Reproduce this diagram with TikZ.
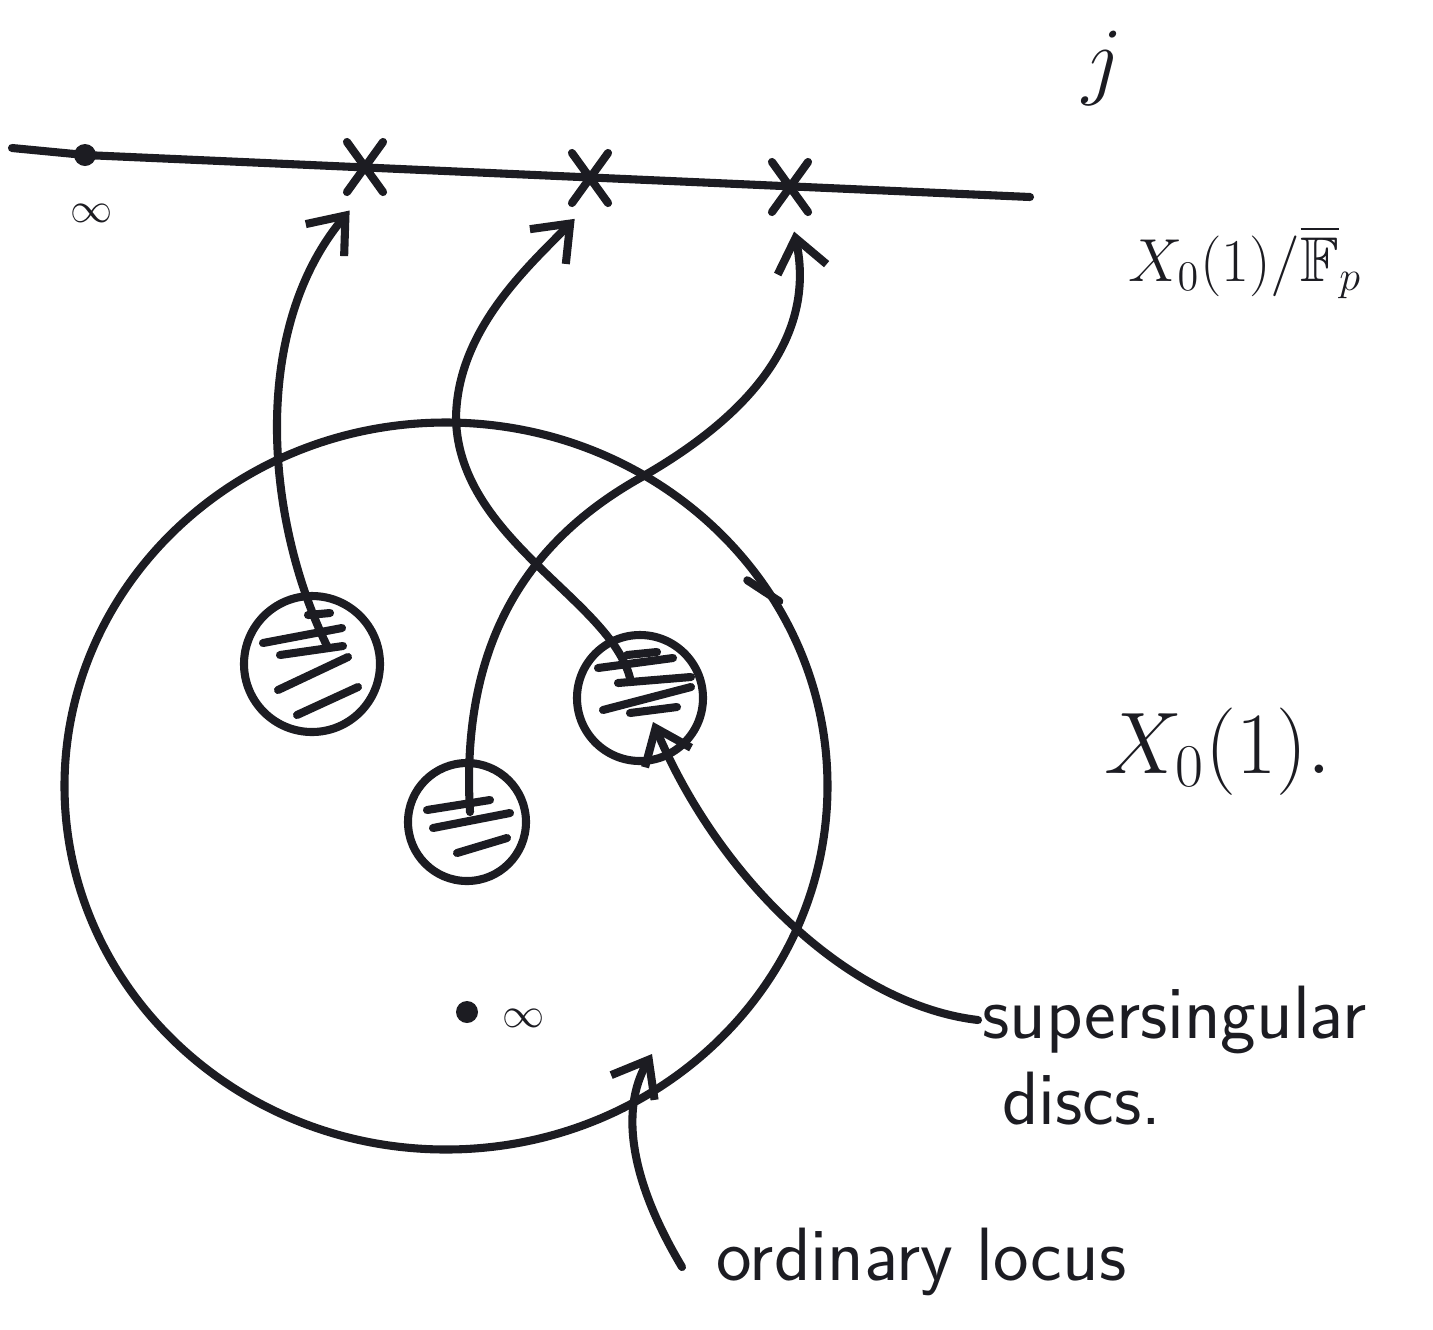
\documentclass[tikz,border=0pt]{standalone}
\usepackage{amsmath,amssymb}
\usepackage{tikz}
\usetikzlibrary{
  arrows.meta, positioning, calc, shapes.geometric, shapes.misc
}
\definecolor{ink}{HTML}{1C1C22}
\tikzset{
  >={Straight Barb[length=3.2mm,width=5mm]},
  pen/.style={draw=ink, line width=2.3pt, line cap=round, line join=round},
  conn/.style={pen, ->},
  disc/.style={circle, pen, minimum size=#1, inner sep=0pt},
  locus/.style={ellipse, pen, minimum width=76.3mm, minimum height=72.7mm, inner sep=0pt},
  xmark/.style={cross out, draw=ink, line width=2.3pt, line cap=round,
    minimum width=2.8mm, minimum height=4.2mm, inner sep=0pt},
  pt/.style={circle, fill=ink, minimum size=2.2mm, inner sep=0pt},
  hatch/.style={draw=ink, line width=2.3pt, line cap=round},
  lab/.style={font=\fontsize{21.5}{25}\selectfont\sffamily, text=ink, inner sep=1pt}
}

\begin{document}
\begin{tikzpicture}[x=0.1mm, y=-0.1mm]
  \useasboundingbox (0,0) rectangle (1433,1329);

  % the j-line over F_p-bar
  \coordinate (jL) at (12,148);
  \coordinate (jR) at (1030,197);
  \node[pt] (inf) at (85,155) {};
  \node[xmark] (c1) at (365,167) {};
  \node[xmark] (c2) at (590,178) {};
  \node[xmark] (c3) at (790,187) {};
  \draw[pen] (jL) -- (inf.center) -- (jR);
  \node[text=ink, font=\fontsize{13}{15}\selectfont] (infL) at (92,213) {$\infty$};
  \node[text=ink, font=\fontsize{26}{30}\selectfont] (jlab) at (1103,68) {$j$};
  \node[text=ink, font=\fontsize{18}{22}\selectfont] (XFp) at (1245,262)
    {$X_0(1)/\overline{\mathbb{F}}_p$};

  % X_0(1) with its supersingular discs
  \node[locus] (X) at (446,786) {};
  \draw[pen] (X.29) -- ++(-32,-21);
  \node[disc=13.6mm] (d1) at (312,664) {};
  \node[disc=12.6mm] (d2) at (640,698) {};
  \node[disc=11.8mm] (d3) at (467,822) {};
  \foreach \a/\b/\c/\d in {-4/-49/18/-51, -49/-21/30/-36, -32/-9/31/-18,
      -34/26/36/-7, -15/51/46/23}
    \draw[hatch] ($(d1)+(\a,\b)$) -- ($(d1)+(\c,\d)$);
  \foreach \a/\b/\c/\d in {-13/-43/17/-46, -42/-30/33/-40, -22/-15/51/-21,
      -37/12/51/-11, -10/15/37/9}
    \draw[hatch] ($(d2)+(\a,\b)$) -- ($(d2)+(\c,\d)$);
  \foreach \a/\b/\c/\d in {-40/-12/23/-22, -34/6/43/-9, -10/31/40/16}
    \draw[hatch] ($(d3)+(\a,\b)$) -- ($(d3)+(\c,\d)$);

  \node[pt] (cusp) at (467,1012) {};
  \node[text=ink, font=\fontsize{13}{15}\selectfont] (infX) at (524,1018) {$\infty$};
  \node[text=ink, font=\fontsize{26}{30}\selectfont] (Xlab) at (1218,752) {$X_0(1).$};

  % reduction arrows
  \draw[conn, shorten >=2.4mm] ($(d1)+(16,-16)$)
    .. controls (265,520) and (250,330) .. (c1.south);
  \draw[conn, shorten >=2.2mm] ($(d2)+(-10,-20)$)
    .. controls (610,600) and (460,540) .. (456,420)
    .. controls (456,330) and (530,265) .. (c2.south);
  \draw[conn, shorten >=2mm] ($(d3)+(3,-10)$)
    .. controls (460,640) and (530,540) .. (640,478)
    .. controls (760,410) and (815,330) .. (c3.south);

  % labels
  \node[lab, anchor=west] (ss) at (978,1020) {supersingular};
  \node[lab, anchor=north west] (ssd) at ([xshift=2mm,yshift=-1mm]ss.south west) {discs.};
  \draw[conn] (ss.west) .. controls (850,1005) and (720,880) .. ($(d2)+(13,24)$);

  \node[lab, anchor=west] (ol) at (712,1262) {ordinary locus};
  \coordinate (ord) at (652,1054);
  \draw[conn] ([xshift=-3mm,yshift=-0.5mm]ol.west)
    .. controls (630,1180) and (620,1110) .. (ord);
\end{tikzpicture}
\end{document}
